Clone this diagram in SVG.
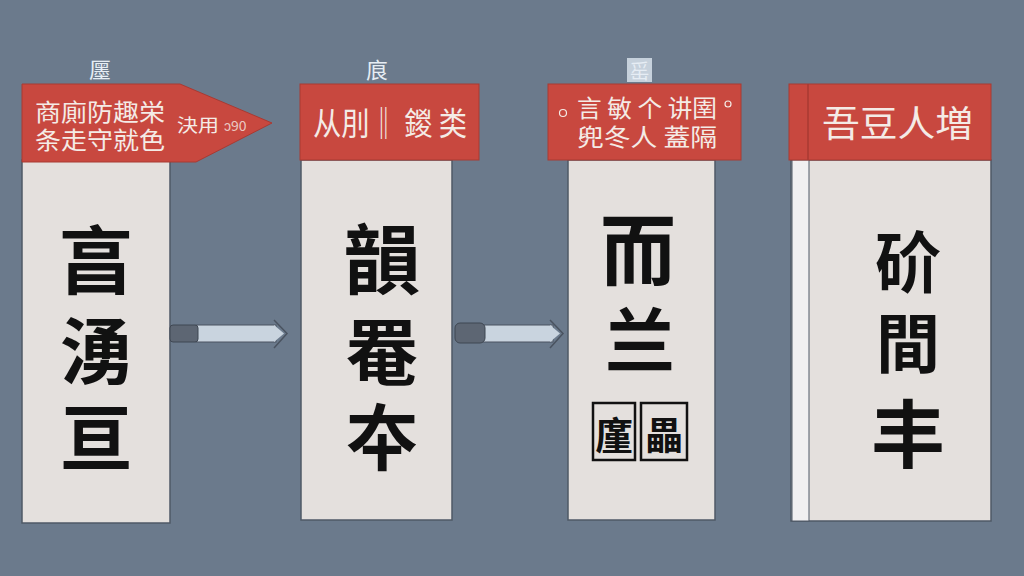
<svg xmlns="http://www.w3.org/2000/svg" width="1024" height="576" viewBox="0 0 1024 576">
<style>
.bg{fill:#6b7a8c}
.hdr{fill:#c8483f;stroke:#a83a33;stroke-width:1}
.body{fill:#e4e0dd;stroke:#4f5966;stroke-width:1.5}
.big{font-family:"Noto Sans CJK SC","Noto Sans CJK JP",sans-serif;font-weight:700;fill:#111;text-anchor:middle;dominant-baseline:central}
.ht{font-family:"Noto Sans CJK SC","Noto Sans CJK JP",sans-serif;font-weight:400;fill:#f4ebe6;dominant-baseline:central}
.top{font-family:"Noto Sans CJK SC","Noto Sans CJK JP",sans-serif;fill:#e6edf4;text-anchor:middle;dominant-baseline:central}
.cap{fill:#5d6673;stroke:#3f4752;stroke-width:1}
.shaft{fill:#c9d4df;stroke:#4a5360;stroke-width:1}
</style>
<rect class="bg" x="0" y="0" width="1024" height="576"/>

<g id="node1">
  <text class="top" x="100" y="68" font-size="22">㕓</text>
  <rect class="body" x="22" y="160" width="148" height="363"/>
  <polygon class="hdr" points="22,84 180,84 272,123 196,162 22,162"/>
  <text class="ht" x="35" y="110" font-size="24" textLength="130" lengthAdjust="spacingAndGlyphs">商廁防趣栄</text>
  <text class="ht" x="35" y="138" font-size="24" textLength="130" lengthAdjust="spacingAndGlyphs">条走守就色</text>
  <text class="ht" x="177" y="124" font-size="18" textLength="42" lengthAdjust="spacingAndGlyphs">決用</text>
  <text class="ht" x="224" y="125" font-size="14" fill-opacity="0.8" font-family="Liberation Sans, sans-serif">ɔ90</text>
  <text class="big" x="96" y="255" font-size="74">亯</text>
  <text class="big" x="96" y="346" font-size="72">湧</text>
  <text class="big" x="96" y="432" font-size="72">亘</text>
</g>

<g id="node2">
  <text class="top" x="377" y="68" font-size="22">㡾</text>
  <rect class="body" x="301" y="160" width="151" height="360"/>
  <rect class="hdr" x="300" y="84" width="179" height="76"/>
  <text class="ht" x="313" y="121" font-size="32" textLength="154" lengthAdjust="spacingAndGlyphs">从刖‖ 鍐 类</text>
  <text class="big" x="382" y="255" font-size="76">韻</text>
  <text class="big" x="382" y="347" font-size="72">罨</text>
  <text class="big" x="382" y="432" font-size="72">夲</text>
</g>

<g id="node3">
  <rect x="627" y="58" width="25" height="24" fill="#c6d1dc"/>
  <text class="top" x="639.5" y="70" font-size="20" fill="#3c4450">䍃</text>
  <rect class="body" x="568" y="160" width="147" height="360"/>
  <rect class="hdr" x="548" y="84" width="193" height="76"/>
  <text class="ht" x="577" y="106" font-size="24" textLength="140" lengthAdjust="spacingAndGlyphs">言 敏 个 讲圉</text>
  <text class="ht" x="577" y="135" font-size="24" textLength="140" lengthAdjust="spacingAndGlyphs">兜冬人 蓋隔</text>
  <circle cx="563" cy="113" r="3.5" fill="none" stroke="#f4ebe6" stroke-width="1.2"/>
  <circle cx="728" cy="104" r="3" fill="none" stroke="#f4ebe6" stroke-width="1.2"/>
  <circle cx="584" cy="138" r="4" fill="none" stroke="#f4ebe6" stroke-width="1.2"/>
  <text class="big" x="638" y="246" font-size="76">而</text>
  <text class="big" x="640" y="336" font-size="70">兰</text>
  <rect x="593" y="403" width="42" height="57" fill="none" stroke="#111" stroke-width="2.5"/>
  <rect x="641" y="403" width="46" height="57" fill="none" stroke="#111" stroke-width="2.5"/>
  <text class="big" x="614" y="432" font-size="38">廑</text>
  <text class="big" x="664" y="432" font-size="38">畾</text>
</g>

<g id="node4">
  <rect class="body" x="791" y="160" width="200" height="361"/>
  <rect x="792" y="160" width="17" height="361" fill="#f1f0f1" stroke="#4f5966" stroke-width="1"/>
  <rect class="hdr" x="789" y="84" width="202" height="76"/>
  <line x1="808" y1="84" x2="808" y2="160" stroke="#a83a33" stroke-width="1.5"/>
  <text class="ht" x="822" y="121" font-size="36" textLength="151" lengthAdjust="spacingAndGlyphs">吾豆人増</text>
  <text class="big" x="908" y="258" font-size="66">砎</text>
  <text class="big" x="908" y="339" font-size="64">間</text>
  <text class="big" x="908" y="429" font-size="74">丰</text>
</g>

<g id="connectors">
  <g id="arrow1">
    <rect class="shaft" x="196" y="325" width="80" height="17"/>
    <polyline points="274,320 287,333.5 274,348" fill="none" stroke="#4a5360" stroke-width="1.5"/>
    <polygon points="274,325 284,333.5 274,342" fill="#c9d4df"/>
    <rect class="cap" x="170" y="325" width="28" height="17" rx="3"/>
  </g>
  <g id="arrow2">
    <rect class="shaft" x="483" y="325" width="70" height="17"/>
    <polyline points="550,320 563,333.5 550,348" fill="none" stroke="#4a5360" stroke-width="1.5"/>
    <polygon points="550,325 560,333.5 550,342" fill="#c9d4df"/>
    <rect class="cap" x="455" y="323" width="30" height="20" rx="5"/>
  </g>
</g>
</svg>
